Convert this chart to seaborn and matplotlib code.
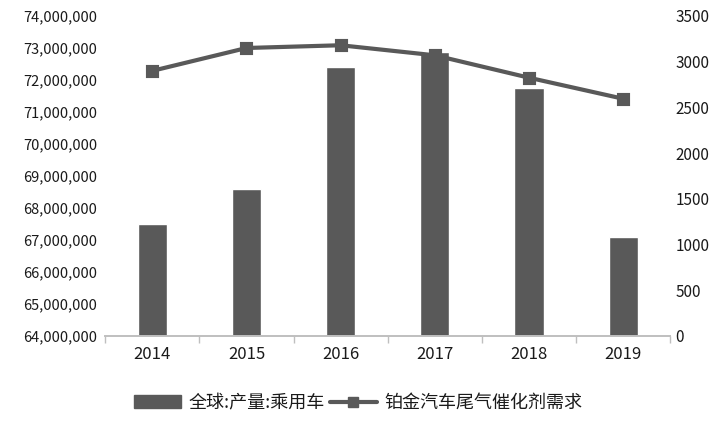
import numpy as np
import pandas as pd
import matplotlib
matplotlib.use("Agg")
import matplotlib.pyplot as plt
from matplotlib.ticker import FuncFormatter, MultipleLocator, FixedLocator
from matplotlib.patches import Patch
from matplotlib.lines import Line2D
import seaborn as sns

sns.set_theme(style="white")
plt.rcParams['font.family'] = ['Noto Sans CJK SC', 'DejaVu Sans']

years = ['2014', '2015', '2016', '2017', '2018', '2019']
car_output = [67500000, 68580000, 72400000, 72880000, 71750000, 67100000]
pt_demand = [2900, 3150, 3180, 3070, 2825, 2595]
bar_label = '全球:产量:乘用车'
line_label = '铂金汽车尾气催化剂需求'

df = pd.DataFrame({'year': years, 'output': car_output, 'demand': pt_demand})
grey = '#595959'
txt = '#1a1a1a'

fig = plt.figure(figsize=(7.16, 4.21), dpi=100)
ax = fig.add_axes([0.147, 0.202, 0.789, 0.76])
sns.barplot(data=df, x='year', y='output', color=grey, saturation=1, width=0.31, ax=ax)
ax.set_ylim(64000000, 74000000)
ax.yaxis.set_major_locator(MultipleLocator(1000000))
ax.yaxis.set_major_formatter(FuncFormatter(lambda v, p: f'{int(v):,}'))
ax.set_xlim(-0.5, len(years) - 0.5)
ax.set_xlabel('')
ax.set_ylabel('')

ax2 = ax.twinx()
sns.pointplot(data=df, x='year', y='demand', color=grey, markers='s',
              markersize=7.5, linewidth=3, ax=ax2)
ax2.set_ylim(0, 3500)
ax2.yaxis.set_major_locator(MultipleLocator(500))
ax2.set_xlim(-0.5, len(years) - 0.5)
ax2.set_ylabel('')

for a in (ax, ax2):
    for s in ['top', 'left', 'right']:
        a.spines[s].set_visible(False)
    a.spines['bottom'].set_color('#bfbfbf')
    a.tick_params(axis='y', length=0, labelsize=10.5, colors=txt, pad=6)
ax2.tick_params(axis='y', labelsize=11, pad=4)

ax.xaxis.set_minor_locator(FixedLocator(np.arange(-0.5, len(years), 1.0)))
ax.tick_params(axis='x', which='major', length=0, labelsize=12, colors=txt, pad=7)
ax.tick_params(axis='x', which='minor', length=5, color='#bfbfbf', bottom=True)

handles = [Patch(facecolor=grey, edgecolor=grey),
           Line2D([0], [0], color=grey, lw=3, marker='s', markersize=7.5)]
fig.legend(handles, [bar_label, line_label], loc='center', bbox_to_anchor=(0.5, 0.043),
           ncol=2, frameon=False, fontsize=13, handlelength=2.6, columnspacing=0.3,
           handletextpad=0.4, labelcolor=txt)

fig.savefig('out.png', dpi=100)
